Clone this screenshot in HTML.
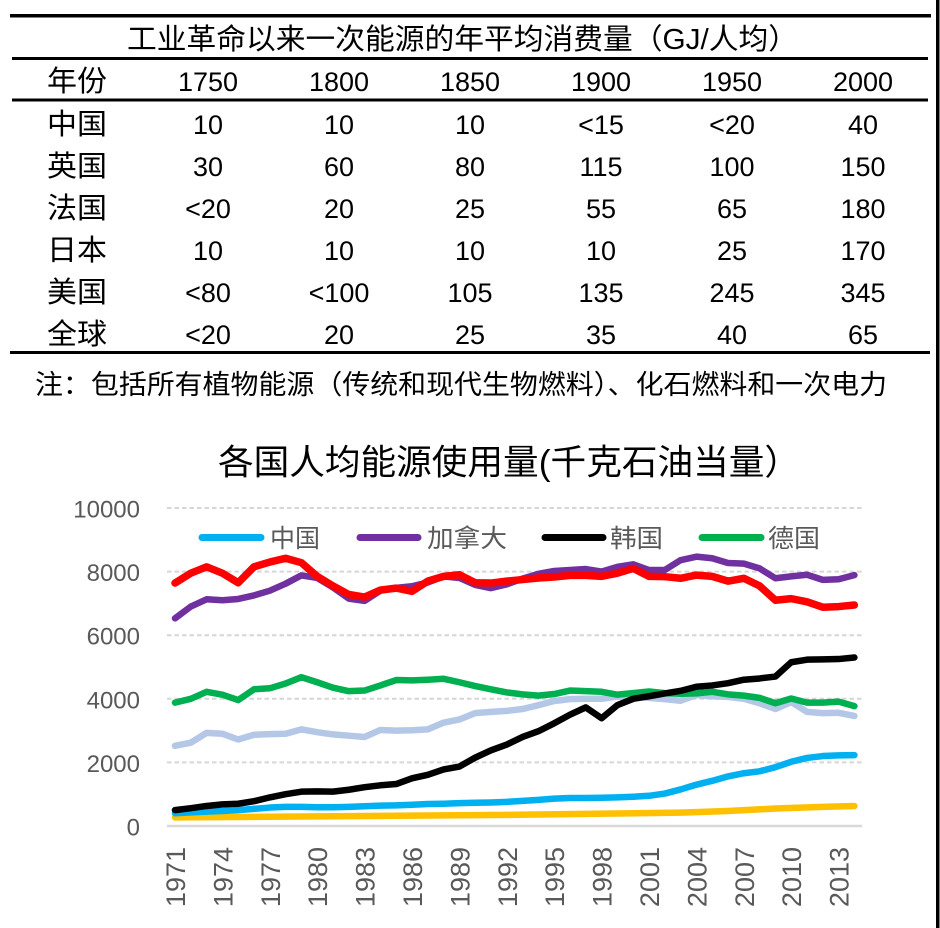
<!DOCTYPE html>
<html>
<head>
<meta charset="utf-8">
<style>
html,body{margin:0;padding:0;background:#fff;}
svg{display:block;}
</style>
</head>
<body>
<svg width="940" height="928" viewBox="0 0 940 928" xmlns="http://www.w3.org/2000/svg" font-family="'Liberation Sans','Noto Sans CJK SC',sans-serif">
  <rect x="0" y="0" width="940" height="928" fill="#fff"/>
  <!-- right border -->
  <rect x="936" y="0" width="3.5" height="928" fill="#000"/>

  <!-- Table lines -->
  <rect x="10" y="14" width="921" height="3.5" fill="#000"/>
  <rect x="12" y="57" width="916" height="3" fill="#000"/>
  <rect x="12" y="98.5" width="916" height="3" fill="#000"/>
  <rect x="10" y="351" width="920" height="3" fill="#000"/>

  <!-- Table title -->
  <text x="127" y="40" font-size="29" fill="#000" dominant-baseline="central" textLength="671" lengthAdjust="spacingAndGlyphs">工业革命以来一次能源的年平均消费量（GJ/人均）</text>

  <g font-size="29" fill="#000" dominant-baseline="central">
    <text x="47" y="82" textLength="60" lengthAdjust="spacingAndGlyphs">年份</text>
    <text x="47" y="125" textLength="60" lengthAdjust="spacingAndGlyphs">中国</text>
    <text x="47" y="167" textLength="60" lengthAdjust="spacingAndGlyphs">英国</text>
    <text x="47" y="209" textLength="60" lengthAdjust="spacingAndGlyphs">法国</text>
    <text x="47" y="251" textLength="60" lengthAdjust="spacingAndGlyphs">日本</text>
    <text x="47" y="293" textLength="60" lengthAdjust="spacingAndGlyphs">美国</text>
    <text x="47" y="335" textLength="60" lengthAdjust="spacingAndGlyphs">全球</text>
  </g>

  <g font-size="27" fill="#000" text-anchor="middle" dominant-baseline="central">
    <text x="208" y="82">1750</text><text x="339" y="82">1800</text><text x="470" y="82">1850</text><text x="601" y="82">1900</text><text x="732" y="82">1950</text><text x="863" y="82">2000</text>

    <text x="208" y="125">10</text><text x="339" y="125">10</text><text x="470" y="125">10</text><text x="601" y="125">&lt;15</text><text x="732" y="125">&lt;20</text><text x="863" y="125">40</text>

    <text x="208" y="167">30</text><text x="339" y="167">60</text><text x="470" y="167">80</text><text x="601" y="167">115</text><text x="732" y="167">100</text><text x="863" y="167">150</text>

    <text x="208" y="209">&lt;20</text><text x="339" y="209">20</text><text x="470" y="209">25</text><text x="601" y="209">55</text><text x="732" y="209">65</text><text x="863" y="209">180</text>

    <text x="208" y="251">10</text><text x="339" y="251">10</text><text x="470" y="251">10</text><text x="601" y="251">10</text><text x="732" y="251">25</text><text x="863" y="251">170</text>

    <text x="208" y="293">&lt;80</text><text x="339" y="293">&lt;100</text><text x="470" y="293">105</text><text x="601" y="293">135</text><text x="732" y="293">245</text><text x="863" y="293">345</text>

    <text x="208" y="335">&lt;20</text><text x="339" y="335">20</text><text x="470" y="335">25</text><text x="601" y="335">35</text><text x="732" y="335">40</text><text x="863" y="335">65</text>
  </g>

  <!-- Note -->
  <text x="35" y="385" font-size="27" fill="#000" dominant-baseline="central" textLength="852" lengthAdjust="spacingAndGlyphs">注：包括所有植物能源（传统和现代生物燃料）、化石燃料和一次电力</text>

  <!-- Chart title -->
  <text x="218" y="463" font-size="35" fill="#000" dominant-baseline="central" textLength="582" lengthAdjust="spacingAndGlyphs">各国人均能源使用量(千克石油当量）</text>

  <!-- Gridlines -->
  <g stroke="#d6d6d6" stroke-width="2" stroke-dasharray="4.5,3" fill="none">
    <line x1="167" y1="508" x2="862" y2="508"/>
    <line x1="167" y1="571.6" x2="862" y2="571.6"/>
    <line x1="167" y1="635.2" x2="862" y2="635.2"/>
    <line x1="167" y1="698.8" x2="862" y2="698.8"/>
    <line x1="167" y1="762.4" x2="862" y2="762.4"/>
  </g>
  <line x1="167" y1="826" x2="862" y2="826" stroke="#d9d9d9" stroke-width="2.5"/>

  <!-- Y labels -->
  <g font-size="24" fill="#595959" text-anchor="end" dominant-baseline="central">
    <text x="140" y="510">10000</text>
    <text x="140" y="573.6">8000</text>
    <text x="140" y="637.2">6000</text>
    <text x="140" y="700.8">4000</text>
    <text x="140" y="764.4">2000</text>
    <text x="140" y="828">0</text>
  </g>

  <!-- X labels -->
  <g font-size="27" fill="#595959" text-anchor="end" dominant-baseline="central">
    <text transform="translate(176,847) rotate(-90)">1971</text>
    <text transform="translate(223.4,847) rotate(-90)">1974</text>
    <text transform="translate(270.8,847) rotate(-90)">1977</text>
    <text transform="translate(318.2,847) rotate(-90)">1980</text>
    <text transform="translate(365.6,847) rotate(-90)">1983</text>
    <text transform="translate(413,847) rotate(-90)">1986</text>
    <text transform="translate(460.4,847) rotate(-90)">1989</text>
    <text transform="translate(507.8,847) rotate(-90)">1992</text>
    <text transform="translate(555.2,847) rotate(-90)">1995</text>
    <text transform="translate(602.6,847) rotate(-90)">1998</text>
    <text transform="translate(650,847) rotate(-90)">2001</text>
    <text transform="translate(697.4,847) rotate(-90)">2004</text>
    <text transform="translate(744.8,847) rotate(-90)">2007</text>
    <text transform="translate(792.2,847) rotate(-90)">2010</text>
    <text transform="translate(839.6,847) rotate(-90)">2013</text>
  </g>

  <!-- Series -->
  <g transform="translate(175,826) scale(15.8,-0.0318)" fill="none" stroke-linejoin="round" stroke-linecap="round">
    <polyline vector-effect="non-scaling-stroke" stroke="#ffc000" stroke-width="6.5"
      points="0,270 5,285 10,305 15,325 20,345 26,380 32,420 35,470 38,550 41,600 43,630"/>
    <polyline vector-effect="non-scaling-stroke" stroke="#00b0f0" stroke-width="6.5"
      points="0,400 1,430 2,450 3,470 4,500 5,540 6,580 7,600 8,600 9,590 10,590 11,600 12,620 13,640 14,650 15,670 16,690 17,700 18,720 19,730 20,740 21,760 22,790 23,820 24,860 25,880 26,880 27,890 28,900 29,920 30,950 31,1020 32,1150 33,1300 34,1420 35,1560 36,1660 37,1720 38,1850 39,2020 40,2140 41,2200 42,2220 43,2230"/>
    <polyline vector-effect="non-scaling-stroke" stroke="#b4c7e7" stroke-width="6.5"
      points="0,2520 1,2620 2,2930 3,2900 4,2720 5,2870 6,2890 7,2900 8,3040 9,2950 10,2880 11,2840 12,2800 13,3020 14,3000 15,3010 16,3040 17,3250 18,3350 19,3550 20,3590 21,3620 22,3680 23,3800 24,3930 25,3990 26,4000 27,4000 28,4070 29,4080 30,4030 31,3990 32,3940 33,4120 34,4080 35,4060 36,4000 37,3860 38,3680 39,3900 40,3590 41,3550 42,3560 43,3460"/>
    <polyline vector-effect="non-scaling-stroke" stroke="#00b050" stroke-width="6.5"
      points="0,3880 1,4000 2,4220 3,4130 4,3960 5,4300 6,4330 7,4480 8,4680 9,4520 10,4350 11,4240 12,4260 13,4420 14,4590 15,4580 16,4600 17,4630 18,4520 19,4400 20,4300 21,4200 22,4140 23,4100 24,4150 25,4260 26,4240 27,4220 28,4130 29,4180 30,4230 31,4180 32,4160 33,4170 34,4220 35,4140 36,4100 37,4030 38,3860 39,4010 40,3880 41,3880 42,3910 43,3770"/>
    <polyline vector-effect="non-scaling-stroke" stroke="#000000" stroke-width="6.5"
      points="0,500 1,560 2,630 3,680 4,700 5,780 6,900 7,1000 8,1080 9,1090 10,1080 11,1140 12,1220 13,1280 14,1320 15,1500 16,1610 17,1780 18,1870 19,2150 20,2380 21,2560 22,2800 23,2980 24,3230 25,3500 26,3730 27,3390 28,3800 29,4000 30,4080 31,4170 32,4250 33,4380 34,4420 35,4490 36,4600 37,4640 38,4700 39,5150 40,5230 41,5240 42,5250 43,5300"/>
    <polyline vector-effect="non-scaling-stroke" stroke="#7030a0" stroke-width="6.5"
      points="0,6530 1,6900 2,7130 3,7100 4,7140 5,7250 6,7400 7,7620 8,7880 9,7800 10,7500 11,7150 12,7080 13,7400 14,7490 15,7540 16,7660 17,7850 18,7800 19,7580 20,7480 21,7600 22,7780 23,7930 24,8020 25,8050 26,8080 27,8000 28,8150 29,8230 30,8050 31,8050 32,8360 33,8470 34,8420 35,8270 36,8250 37,8100 38,7790 39,7850 40,7900 41,7740 42,7760 43,7890"/>
    <polyline vector-effect="non-scaling-stroke" stroke="#ff0000" stroke-width="7.5"
      points="0,7640 1,7950 2,8150 3,7950 4,7650 5,8150 6,8300 7,8420 8,8280 9,7850 10,7550 11,7280 12,7200 13,7420 14,7480 15,7380 16,7700 17,7850 18,7900 19,7650 20,7640 21,7700 22,7750 23,7800 24,7830 25,7880 26,7880 27,7850 28,7950 29,8100 30,7850 31,7840 32,7790 33,7890 34,7850 35,7700 36,7790 37,7550 38,7100 39,7150 40,7050 41,6880 42,6900 43,6950"/>
  </g>

  <!-- Legend -->
  <g stroke-width="7" stroke-linecap="round">
    <line x1="202" y1="537.5" x2="261" y2="537.5" stroke="#00b0f0"/>
    <line x1="360" y1="537.5" x2="418" y2="537.5" stroke="#7030a0"/>
    <line x1="545" y1="537.5" x2="603" y2="537.5" stroke="#000000"/>
    <line x1="702" y1="537.5" x2="761" y2="537.5" stroke="#00b050"/>
  </g>
  <g font-size="25" fill="#595959" dominant-baseline="central">
    <text x="270" y="539" textLength="50" lengthAdjust="spacingAndGlyphs">中国</text>
    <text x="427" y="539" textLength="80" lengthAdjust="spacingAndGlyphs">加拿大</text>
    <text x="610" y="539" textLength="53" lengthAdjust="spacingAndGlyphs">韩国</text>
    <text x="768" y="539" textLength="52" lengthAdjust="spacingAndGlyphs">德国</text>
  </g>
</svg>
</body>
</html>
